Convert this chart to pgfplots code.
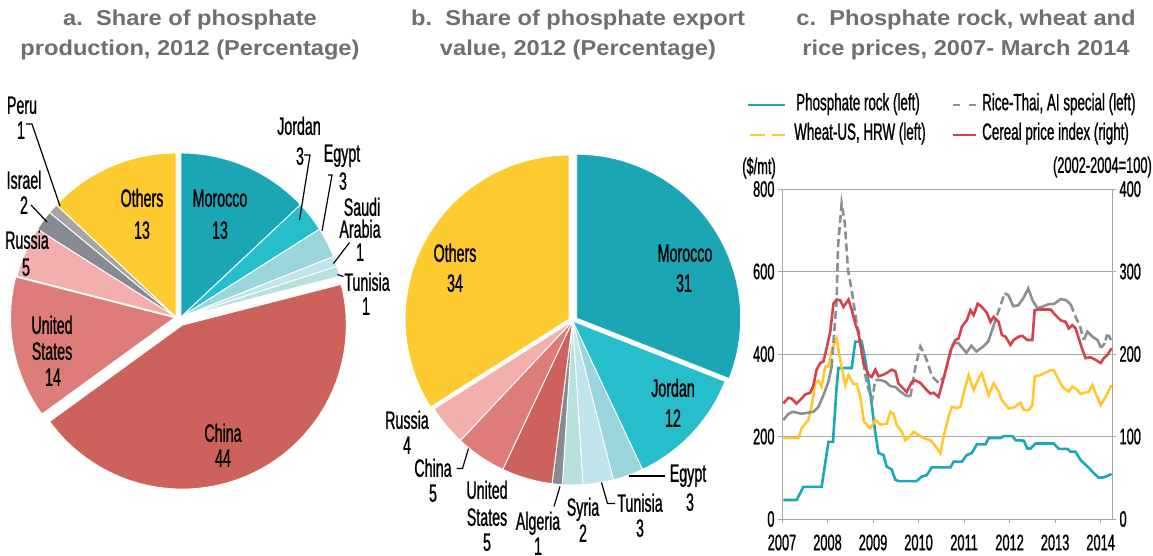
\documentclass[border=0pt]{standalone}
\usepackage{fontspec}
\setmainfont{Liberation Sans}
\newfontfamily\cond[FakeStretch=0.57, FakeBold=0.9]{Liberation Sans}
\newfontfamily\ttl[FakeStretch=1.1]{Liberation Sans}
\usepackage{pgfplots}
\pgfplotsset{compat=1.18}

\definecolor{cMor}{HTML}{1BA6B6}
\definecolor{cJor}{HTML}{26BECA}
\definecolor{cEgy}{HTML}{99D5DB}
\definecolor{cSau}{HTML}{C0E5EB}
\definecolor{cTun}{HTML}{B8E0DE}
\definecolor{cChn}{HTML}{CD625C}
\definecolor{cUS}{HTML}{DE7C79}
\definecolor{cRus}{HTML}{F2AFAE}
\definecolor{cIsr}{HTML}{878A92}
\definecolor{cPer}{HTML}{A8A4A4}
\definecolor{cOth}{HTML}{FDCA2F}
\definecolor{lTeal}{HTML}{1BA7B7}
\definecolor{lYel}{HTML}{FFC830}
\definecolor{lGray}{HTML}{8C8E91}
\definecolor{lRed}{HTML}{D4424E}
\definecolor{axgray}{HTML}{A6A6A6}
\definecolor{ttlgray}{HTML}{6E6F72}

% apex x, apex y, radius, cumulative share, share, colour
\newcommand{\pieslice}[6]{%
  \addplot[fill=#6, draw=white, line width=0.9pt,
    domain={90-3.6*(#4+#5)}:{90-3.6*(#4)}, samples=60, variable=\t]
    ({#1+#3*cos(\t)}, {#2-#3*sin(\t)}) -- (axis cs:#1,#2) -- cycle;}
\newcommand{\plab}{\cond\fontsize{25}{25}\selectfont}
\newcommand{\lab}[3]{\node[font=\plab, text height=17.5pt, text depth=0pt, inner sep=0pt] at (axis cs:#1,#2) {#3};}
\newcommand{\leg}[3]{\node[font=\cond\fontsize{23.5}{23.5}\selectfont, text height=16.5pt, text depth=0pt, inner sep=0pt, anchor=west] at (axis cs:#1,#2) {#3};}

\begin{document}
\begin{tikzpicture}
\useasboundingbox (0,0) rectangle (1153pt,555pt);

\begin{axis}[at={(0pt,0pt)}, anchor=south west, scale only axis,
  width=1153pt, height=555pt, xmin=0, xmax=1153, ymin=0, ymax=555,
  y dir=reverse, hide axis, clip=false]
% a. production shares 2012
\pieslice{181}{317}{164}{0}{13}{cMor}
\pieslice{181}{317}{164}{13}{3}{cJor}
\pieslice{181}{317}{164}{16}{3}{cEgy}
\pieslice{181}{317}{164}{19}{1}{cSau}
\pieslice{181}{317}{164}{20}{1}{cTun}
\pieslice{182.3}{325.1}{164}{21}{44}{cChn}
\pieslice{174.6}{317.7}{164}{65}{14}{cUS}
\pieslice{176}{317}{164}{79}{5}{cRus}
\pieslice{176}{317}{164}{84}{2}{cIsr}
\pieslice{176}{317}{164}{86}{1}{cPer}
\pieslice{176}{317}{164}{87}{13}{cOth}
% b. export value shares 2012
\pieslice{576.7}{318.2}{164}{0}{31}{cMor}
\pieslice{572.6}{321}{164}{31}{12}{cJor}
\pieslice{572.6}{321}{164}{43}{3}{cEgy}
\pieslice{572.6}{321}{164}{46}{3}{cSau}
\pieslice{572.6}{321}{164}{49}{2}{cTun}
\pieslice{572.6}{321}{164}{51}{1}{cIsr}
\pieslice{572.6}{321}{164}{52}{5}{cChn}
\pieslice{572.6}{321}{164}{57}{5}{cUS}
\pieslice{572.6}{321}{164}{62}{4}{cRus}
\pieslice{569.1}{319.1}{164}{66}{34}{cOth}

% titles
\node[font=\ttl\bfseries\fontsize{21.5}{30}\selectfont, text=ttlgray, align=center] at (axis cs:190,35) {a.\ \ Share of phosphate\\production, 2012 (Percentage)};
\node[font=\ttl\bfseries\fontsize{21.5}{30}\selectfont, text=ttlgray, align=center] at (axis cs:578,35) {b.\ \ Share of phosphate export\\value, 2012 (Percentage)};
\node[font=\ttl\bfseries\fontsize{21.5}{30}\selectfont, text=ttlgray, align=center] at (axis cs:966,35) {c.\ \ Phosphate rock, wheat and\\rice prices, 2007- March 2014};

% labels a
\lab{142}{198}{Others}\lab{142}{230}{13}
\lab{220}{198}{Morocco}\lab{220}{230}{13}
\lab{299}{126}{Jordan}\lab{300}{156}{3}
\lab{342}{153}{Egypt}\lab{343}{181}{3}
\lab{362}{207}{Saudi}\lab{360}{229}{Arabia}\lab{360}{252}{1}
\lab{367}{282}{Tunisia}\lab{366}{306}{1}
\lab{22}{105}{Peru}\lab{21}{130}{1}
\lab{24}{180}{Israel}\lab{24}{205}{2}
\lab{27}{240}{Russia}\lab{26}{267}{5}
\lab{52}{325}{United}\lab{52}{351}{States}\lab{53}{377}{14}
\lab{223}{433}{China}\lab{223}{458}{44}
\draw[line width=1.2pt] (26,124) -- (32,124) -- (60,206);
\draw[line width=1.2pt] (31,205) -- (47,222);
\draw[line width=1.2pt] (304,155) -- (310,155) -- (299.5,220);
\draw[line width=1.2pt] (328,175) -- (332,175) -- (322,231);
\draw[line width=1.2pt] (349.5,242.5) -- (333.5,263.5);
\draw[line width=1.2pt] (337.5,274.5) -- (343.5,276.5);
% labels b
\lab{455}{253}{Others}\lab{455}{283}{34}
\lab{685}{253}{Morocco}\lab{684}{283}{31}
\lab{673}{388}{Jordan}\lab{673}{418}{12}
\lab{688}{473}{Egypt}\lab{690}{502}{3}
\lab{640}{503}{Tunisia}\lab{640}{528}{3}
\lab{583}{507}{Syria}\lab{583}{533}{2}
\lab{538}{521}{Algeria}\lab{538}{546}{1}
\lab{487}{490}{United}\lab{487}{517}{States}\lab{487}{542}{5}
\lab{433}{468}{China}\lab{433}{493}{5}
\lab{407}{420}{Russia}\lab{407}{445}{4}
\draw[line width=1.2pt] (456.5,468.5) -- (462.5,468.5) -- (468.5,448.5);
\draw[line width=1.2pt] (560,486.5) -- (554,506.5);
\draw[line width=1.2pt] (601.5,482.5) -- (607.5,503.5) -- (615,503.5);
\draw[line width=1.2pt] (628.5,476) -- (665,476);

% legend of c
\draw[lTeal, line width=2.6pt] (748,105) -- (785,105);
\leg{796}{102}{Phosphate rock (left)}
\draw[lGray, line width=2.6pt] (953,105) -- (960,105);
\draw[lGray, line width=2.6pt] (969,105) -- (976,105);
\leg{982}{102}{Rice-Thai, AI special (left)}
\draw[lYel, line width=2.6pt] (750,135) -- (765,135);
\draw[lYel, line width=2.6pt] (772,135) -- (785,135);
\leg{794}{131.5}{Wheat-US, HRW (left)}
\draw[lRed, line width=2.6pt] (953,135) -- (976,135);
\leg{982}{131.5}{Cereal price index (right)}
\node[font=\cond\fontsize{22.5}{22.5}\selectfont] at (759,168) {(\$/mt)};
\node[font=\cond\fontsize{22.5}{22.5}\selectfont, anchor=east, inner sep=0pt] at (1152,167) {(2002-2004=100)};
\end{axis}

% c. prices, left axis ($/mt)
\begin{axis}[at={(782pt,36pt)}, anchor=south west, scale only axis,
  width=330pt, height=330pt, xmin=2007, xmax=2014.25, ymin=0, ymax=800,
  axis y line*=left, axis x line*=bottom,
  xtick={2007,2008,...,2014}, ytick={0,200,...,800},
  ymajorgrids, grid style={axgray, line width=1pt},
  axis line style={axgray, line width=1pt},
  tick style={axgray, line width=1pt}, tick align=outside, major tick length=4pt,
  /pgf/number format/assume math mode=true,
  x tick label style={/pgf/number format/1000 sep={}, yshift=-8pt},
  tick label style={font=\cond\fontsize{22.5}{22.5}\selectfont}]
\addplot[lTeal, line width=2.6pt] coordinates {
(2007.03,46) (2007.32,46) (2007.47,78) (2007.87,78) (2008.02,187) (2008.12,187)
(2008.20,321) (2008.24,366) (2008.53,366) (2008.61,430) (2008.75,430) (2008.83,385)
(2008.94,305) (2009.05,208) (2009.12,160) (2009.23,155) (2009.30,127) (2009.41,120)
(2009.49,95) (2009.56,92) (2009.96,92) (2010.07,103) (2010.18,106) (2010.29,125)
(2010.70,125) (2010.77,139) (2010.95,139) (2011.06,155) (2011.17,160) (2011.28,181)
(2011.47,181) (2011.54,196) (2011.80,196) (2011.87,201) (2012.06,201) (2012.13,191)
(2012.31,190) (2012.39,171) (2012.46,171) (2012.57,183) (2012.97,183) (2013.08,170)
(2013.27,170) (2013.34,163) (2013.45,163) (2013.56,143) (2013.74,124) (2013.85,111)
(2013.96,100) (2014.07,101) (2014.24,109)};
\addplot[lYel, line width=2.6pt] coordinates {
(2007.03,196) (2007.36,196) (2007.43,220) (2007.58,240) (2007.65,275) (2007.73,329)
(2007.80,335) (2007.87,321) (2007.95,369) (2008.02,369) (2008.09,410) (2008.20,438)
(2008.28,385) (2008.39,325) (2008.46,349) (2008.57,327) (2008.64,327) (2008.72,296)
(2008.80,236) (2008.94,220) (2009.05,240) (2009.16,229) (2009.30,231) (2009.38,260)
(2009.45,255) (2009.52,228) (2009.63,212) (2009.71,191) (2009.78,196) (2009.89,211)
(2010.00,204) (2010.11,196) (2010.26,191) (2010.33,183) (2010.40,172) (2010.48,159)
(2010.55,200) (2010.66,248) (2010.73,272) (2010.84,269) (2010.92,272) (2010.99,305)
(2011.10,349) (2011.21,313) (2011.32,341) (2011.39,353) (2011.47,325) (2011.54,300)
(2011.65,329) (2011.76,309) (2011.83,288) (2011.98,268) (2012.09,270) (2012.24,282)
(2012.31,264) (2012.42,264) (2012.50,276) (2012.55,345) (2012.68,349) (2012.90,361)
(2012.97,361) (2013.08,337) (2013.19,317) (2013.30,309) (2013.38,321) (2013.49,313)
(2013.56,303) (2013.74,309) (2013.82,325) (2013.89,305) (2014.00,276) (2014.11,296)
(2014.24,325)};
% rice: solid where monthly steps are short, dashed on the steep runs
\addplot[lGray, line width=2.6pt] coordinates {
(2007.03,240) (2007.14,255) (2007.25,260) (2007.43,255) (2007.69,260) (2007.80,272)
(2007.91,300) (2008.02,333) (2008.09,369)};
\addplot[lGray, line width=2.6pt, dash pattern=on 8pt off 4pt] coordinates {
(2008.09,369) (2008.20,531) (2008.23,660) (2008.31,765) (2008.38,717) (2008.45,604)
(2008.53,555) (2008.64,474) (2008.71,442) (2008.78,385) (2008.86,329) (2008.98,288)
(2009.05,337)};
\addplot[lGray, line width=2.6pt] coordinates {
(2009.05,337) (2009.16,337) (2009.27,333) (2009.38,322) (2009.49,320) (2009.60,309)
(2009.71,300) (2009.82,297)};
\addplot[lGray, line width=2.6pt, dash pattern=on 8pt off 4pt] coordinates {
(2009.82,297) (2009.93,369) (2010.04,418) (2010.15,394) (2010.30,345) (2010.45,329)
(2010.56,345) (2010.67,394) (2010.76,426)};
\addplot[lGray, line width=2.6pt] coordinates {
(2010.76,426) (2010.87,427) (2011.05,403) (2011.16,420) (2011.27,406) (2011.42,418)
(2011.53,430) (2011.64,466)};
\addplot[lGray, line width=2.6pt, dash pattern=on 8pt off 4pt] coordinates {
(2011.64,466) (2011.71,490) (2011.78,511) (2011.89,547)};
\addplot[lGray, line width=2.6pt] coordinates {
(2011.89,547) (2011.97,543) (2012.08,516) (2012.19,518) (2012.30,535) (2012.41,559)
(2012.50,531) (2012.61,511) (2012.75,516) (2012.86,521) (2012.97,521) (2013.12,533)
(2013.23,531) (2013.34,521)};
\addplot[lGray, line width=2.6pt, dash pattern=on 8pt off 4pt] coordinates {
(2013.34,521) (2013.45,490) (2013.54,470) (2013.63,434)};
\addplot[lGray, line width=2.6pt] coordinates {
(2013.63,434) (2013.71,454) (2013.82,442) (2013.93,434) (2014.01,415)};
\addplot[lGray, line width=2.6pt, dash pattern=on 6pt off 3pt] coordinates {
(2014.01,415) (2014.09,426) (2014.15,450) (2014.23,434)};
\end{axis}

% c. cereal price index, right axis
\begin{axis}[at={(782pt,36pt)}, anchor=south west, scale only axis,
  width=330pt, height=330pt, xmin=2007, xmax=2014.25, ymin=0, ymax=400,
  axis y line*=right, axis x line=none, ytick={0,100,...,400},
  axis line style={axgray, line width=1pt},
  tick style={axgray, line width=1pt}, tick align=outside, major tick length=4pt,
  /pgf/number format/assume math mode=true,
  tick label style={font=\cond\fontsize{22.5}{22.5}\selectfont}]
\addplot[lRed, line width=2.6pt] coordinates {
(2007.03,140) (2007.14,147) (2007.21,146) (2007.32,140) (2007.43,146) (2007.51,151)
(2007.62,153) (2007.69,162) (2007.76,181) (2007.84,189) (2007.91,191) (2007.98,207)
(2008.06,227) (2008.13,261) (2008.20,266) (2008.28,265) (2008.35,257) (2008.46,266)
(2008.53,254) (2008.61,237) (2008.68,225) (2008.79,189) (2008.90,175) (2008.97,172)
(2009.05,181) (2009.12,173) (2009.23,175) (2009.30,177) (2009.41,181) (2009.49,179)
(2009.56,164) (2009.67,158) (2009.74,154) (2009.85,166) (2009.93,168) (2010.04,165)
(2010.15,158) (2010.26,152) (2010.33,153) (2010.44,148) (2010.51,162) (2010.62,185)
(2010.71,205) (2010.81,217) (2010.88,219) (2010.95,233) (2011.06,241) (2011.14,253)
(2011.21,247) (2011.30,261) (2011.39,257) (2011.50,250) (2011.58,239) (2011.65,245)
(2011.76,239) (2011.83,223) (2011.91,221) (2012.02,211) (2012.09,217) (2012.20,221)
(2012.28,222) (2012.39,217) (2012.50,217) (2012.55,253) (2012.68,254) (2012.90,254)
(2013.01,247) (2013.12,241) (2013.23,239) (2013.30,231) (2013.38,235) (2013.45,231)
(2013.52,219) (2013.60,205) (2013.67,195) (2013.78,196) (2013.89,193) (2014.00,189)
(2014.07,195) (2014.15,199) (2014.24,207)};
\end{axis}
\end{tikzpicture}
\end{document}
